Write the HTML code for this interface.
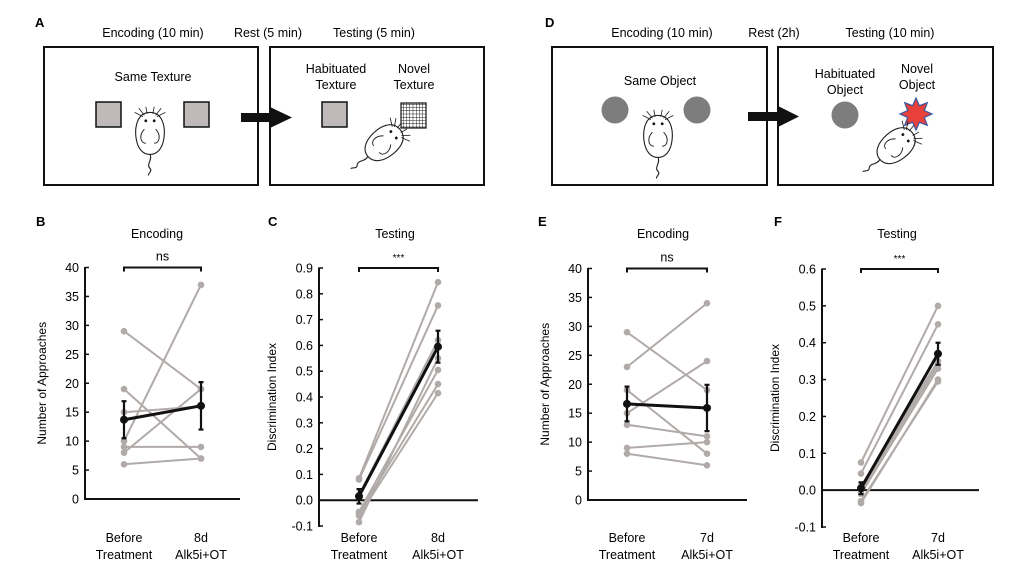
<!DOCTYPE html>
<html><head><meta charset="utf-8"><style>
body{margin:0;background:#fff;}
svg{display:block;font-family:"Liberation Sans",Arial,sans-serif;}
</style></head><body>
<svg id="fig" width="1020" height="579" viewBox="0 0 1020 579" xmlns="http://www.w3.org/2000/svg">
<defs>
<g id="mouse">
<path d="M0,-14 C9,-14 11,-4 10,4 C9,12 5,16 0,16 C-5,16 -9,12 -10,4 C-11,-4 -9,-14 0,-14Z" fill="#fff" stroke="#222" stroke-width="0.8"/>
<path d="M-4,-2 C-8,2 -7,8 -3,8 M4,-2 C8,2 7,8 3,8" fill="none" stroke="#222" stroke-width="0.7"/>
<circle cx="-3" cy="-8" r="1" fill="#111"/><circle cx="3" cy="-8" r="1" fill="#111"/>
<path d="M-4,-12 l-4,-5 M-5,-11 l-6,-3 M4,-12 l4,-5 M5,-11 l6,-3 M-2,-13 l-1,-5 M2,-13 l1,-5" stroke="#222" stroke-width="0.6"/>
<path d="M0,16 C2,20 -3,23 0,26 C2,28 -2,30 -1,31" fill="none" stroke="#222" stroke-width="0.8"/>
</g>
<pattern id="grid" width="3.25" height="3.25" patternUnits="userSpaceOnUse"><rect width="3.25" height="3.25" fill="#fff"/><path d="M0,0H3.25M0,0V3.25" stroke="#111" stroke-width="0.9"/></pattern>
</defs>

<g>
<text x="35" y="27" font-size="13" font-weight="bold">A</text>
<text x="153" y="37" font-size="12.5" text-anchor="middle">Encoding (10 min)</text>
<text x="268" y="37" font-size="12.5" text-anchor="middle">Rest (5 min)</text>
<text x="374" y="37" font-size="12.5" text-anchor="middle">Testing (5 min)</text>
<rect x="44" y="47" width="214" height="138" fill="none" stroke="#111" stroke-width="2"/>
<rect x="270" y="47" width="214" height="138" fill="none" stroke="#111" stroke-width="2"/>
<text x="153" y="81" font-size="12.5" text-anchor="middle">Same Texture</text>
<rect x="96" y="102" width="25" height="25" fill="#c0b9b9" stroke="#111" stroke-width="1.5"/>
<rect x="184" y="102" width="25" height="25" fill="#c0b9b9" stroke="#111" stroke-width="1.5"/>
<use href="#mouse" transform="translate(150,132) scale(1.4)"/>
<path d="M241,113H270V107L292,117.5L270,128V122H241Z" fill="#111"/>
<text x="336" y="73" font-size="12.5" text-anchor="middle">Habituated</text>
<text x="336" y="89" font-size="12.5" text-anchor="middle">Texture</text>
<text x="414" y="73" font-size="12.5" text-anchor="middle">Novel</text>
<text x="414" y="89" font-size="12.5" text-anchor="middle">Texture</text>
<rect x="322" y="102" width="25" height="25" fill="#c0b9b9" stroke="#111" stroke-width="1.5"/>
<rect x="401" y="103" width="25" height="25" fill="url(#grid)" stroke="#111" stroke-width="1.2"/>
<use href="#mouse" transform="translate(385,142) rotate(50) scale(1.4)"/>
</g>

<g>
<text x="545" y="27" font-size="13" font-weight="bold">D</text>
<text x="662" y="37" font-size="12.5" text-anchor="middle">Encoding (10 min)</text>
<text x="774" y="37" font-size="12.5" text-anchor="middle">Rest (2h)</text>
<text x="890" y="37" font-size="12.5" text-anchor="middle">Testing (10 min)</text>
<rect x="552" y="47" width="215" height="138" fill="none" stroke="#111" stroke-width="2"/>
<rect x="778" y="47" width="215" height="138" fill="none" stroke="#111" stroke-width="2"/>
<text x="660" y="85" font-size="12.5" text-anchor="middle">Same Object</text>
<circle cx="615" cy="110" r="13.5" fill="#7d7d7d"/>
<circle cx="697" cy="110" r="13.5" fill="#7d7d7d"/>
<use href="#mouse" transform="translate(658,135) scale(1.4)"/>
<path d="M748,112H778V106L799,116.5L778,127V121H748Z" fill="#111"/>
<text x="845" y="78" font-size="12.5" text-anchor="middle">Habituated</text>
<text x="845" y="94" font-size="12.5" text-anchor="middle">Object</text>
<text x="917" y="73" font-size="12.5" text-anchor="middle">Novel</text>
<text x="917" y="89" font-size="12.5" text-anchor="middle">Object</text>
<circle cx="845" cy="115" r="13.5" fill="#7d7d7d"/>
<polygon id="star" points="" fill="#e8403b" stroke="#3a55a0" stroke-width="1.2"/>
<use href="#mouse" transform="translate(897,145) rotate(50) scale(1.4)"/>
</g>

<g id="charts"></g>
</svg>
<script>
(function(){var p=[],cx=916,cy=114;for(var i=0;i<16;i++){var r=i%2?9:16,a=Math.PI*i/8-Math.PI/2;p.push((cx+r*Math.cos(a)).toFixed(1)+','+(cy+r*Math.sin(a)).toFixed(1));}document.getElementById('star').setAttribute('points',p.join(' '));})();

var bBefore=[29,19,15,10,9,8,6];
var bAfter=[19,7,16,37,9,19,7];
var bMean=[13.7,16.1];
var bErr=[3.2,4.1];
var cBefore=[0.085,0.08,0.02,-0.045,-0.05,-0.06,-0.085];
var cAfter=[0.845,0.755,0.62,0.505,0.45,0.415,0.55];
var cMean=[0.015,0.595];
var cErr=[0.028,0.062];
var eBefore=[29,23,19,15,13,9,8];
var eAfter=[19,34,8,24,11,10,6];
var eMean=[16.6,15.9];
var eErr=[3.0,4.0];
var fBefore=[0.075,0.045,0.01,-0.01,-0.035,-0.03,0.0];
var fAfter=[0.5,0.45,0.35,0.33,0.3,0.295,0.34];
var fMean=[0.005,0.37];
var fErr=[0.016,0.03];
var countTicks=[0,5,10,15,20,25,30,35,40];
var diTicksC=[-0.1,0,0.1,0.2,0.3,0.4,0.5,0.6,0.7,0.8,0.9];
var diTicksF=[-0.1,0,0.1,0.2,0.3,0.4,0.5,0.6];
var xLabelsBC=[["Before","Treatment"],["8d","Alk5i+OT"]];
var xLabelsEF=[["Before","Treatment"],["7d","Alk5i+OT"]];

var NS='http://www.w3.org/2000/svg';
var root=document.getElementById('charts');
function mk(tag,attrs,parent){var e=document.createElementNS(NS,tag);for(var k in attrs)e.setAttribute(k,attrs[k]);(parent||root).appendChild(e);return e;}

function chart(o){
  var g=mk('g',{});
  
  
  var ymin=o.ticks[0],ymax=o.ticks[o.ticks.length-1];
  function Y(v){return o.yb+(v-ymin)/(ymax-ymin)*(o.yt-o.yb);}
  var xs=[o.x0,o.x1];
  var lt=mk('text',{x:o.lx,y:226,'font-size':13,'font-weight':'bold'},g);lt.textContent=o.letter;
  var tt=mk('text',{x:o.tx,y:238,'font-size':12.5,'text-anchor':'middle'},g);tt.textContent=o.title;
  var ya=mk('line',{x1:o.ax,x2:o.ax,y1:o.yt-0.5,y2:o.yb+1,stroke:'#111','stroke-width':2},g);
  
  var zy=Y(0);
  var xa=mk('line',{x1:o.ax,x2:o.xe,y1:zy,y2:zy,stroke:'#111','stroke-width':2},g);
  
  o.ticks.forEach(function(t){
    var y=Y(t);
    mk('line',{x1:o.ax,x2:o.ax+4,y1:y,y2:y,stroke:'#111','stroke-width':1.5},g);
    var tx=mk('text',{x:o.ax-6,y:y+4.5,'font-size':12.5,'text-anchor':'end'},g);
    
    tx.textContent=o.dec?t.toFixed(1):t;
  });
  var yt=mk('text',{transform:'translate('+o.ytx+','+((o.yt+o.yb)/2)+') rotate(-90)','font-size':12,'text-anchor':'middle'},g);
  
  yt.textContent=o.ylabel;
  o.xl.forEach(function(l,i){
    for(var j=0;j<2;j++){var t=mk('text',{x:xs[i],y:542+j*17,'font-size':12.5,'text-anchor':'middle'},g);t.textContent=l[j];
    }
  });
  o.b.forEach(function(v,i){
    var ln=mk('line',{x1:xs[0],x2:xs[1],y1:Y(v),y2:Y(o.a[i]),stroke:'#b0aaa8','stroke-width':2},g);
    
    var c1=mk('circle',{cx:xs[0],cy:Y(v),r:3.3,fill:'#b0aaa8'},g);
    
    var c2=mk('circle',{cx:xs[1],cy:Y(o.a[i]),r:3.3,fill:'#b0aaa8'},g);
    
  });
  var ml=mk('line',{x1:xs[0],x2:xs[1],y1:Y(o.m[0]),y2:Y(o.m[1]),stroke:'#111','stroke-width':3},g);
  
  [0,1].forEach(function(i){
    var eb=mk('path',{d:'M'+xs[i]+','+Y(o.m[i]-o.e[i])+'V'+Y(o.m[i]+o.e[i])+'M'+(xs[i]-2.5)+','+Y(o.m[i]-o.e[i])+'h5M'+(xs[i]-2.5)+','+Y(o.m[i]+o.e[i])+'h5',stroke:'#111','stroke-width':2.2,fill:'none'},g);
    
    var mp=mk('circle',{cx:xs[i],cy:Y(o.m[i]),r:4,fill:'#111'},g);
    
  });
  var sy=o.yt-18;
  var br=mk('path',{d:'M'+xs[0]+','+(sy+22)+'V'+(sy+18)+'H'+xs[1]+'V'+(sy+22),stroke:'#111','stroke-width':2,fill:'none'},g);
  
  var st=mk('text',{x:(xs[0]+xs[1])/2,y:sy+11,'font-size':o.sig=='ns'?12.5:10,'text-anchor':'middle'},g);
  
  st.textContent=o.sig;
}
chart({name:'chart-b-encoding',letter:'B',lx:36,title:'Encoding',tx:157,ax:85,yt:267.5,yb:499,xe:240,x0:124,x1:201,ticks:countTicks,dec:false,ytx:46,ylabel:'Number of Approaches',xl:xLabelsBC,b:bBefore,a:bAfter,m:bMean,e:bErr,sig:'ns'});
chart({name:'chart-c-testing',letter:'C',lx:268,title:'Testing',tx:395,ax:319,yt:268,yb:526,xe:478,x0:359,x1:438,ticks:diTicksC,dec:true,ytx:276,ylabel:'Discrimination Index',xl:xLabelsBC,b:cBefore,a:cAfter,m:cMean,e:cErr,sig:'***'});
chart({name:'chart-e-encoding',letter:'E',lx:538,title:'Encoding',tx:663,ax:588,yt:268.5,yb:500,xe:747,x0:627,x1:707,ticks:countTicks,dec:false,ytx:549,ylabel:'Number of Approaches',xl:xLabelsEF,b:eBefore,a:eAfter,m:eMean,e:eErr,sig:'ns'});
chart({name:'chart-f-testing',letter:'F',lx:774,title:'Testing',tx:897,ax:822,yt:269,yb:527,xe:979,x0:861,x1:938,ticks:diTicksF,dec:true,ytx:779,ylabel:'Discrimination Index',xl:xLabelsEF,b:fBefore,a:fAfter,m:fMean,e:fErr,sig:'***'});
</script>
</body></html>
